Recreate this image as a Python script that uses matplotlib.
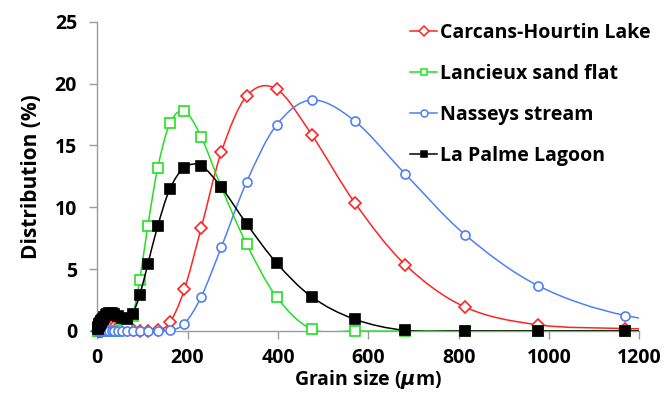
import matplotlib
matplotlib.use('Agg')
from matplotlib import pyplot as plt
from matplotlib.path import Path
from matplotlib.patches import PathPatch
from matplotlib.lines import Line2D

plt.rcParams['font.family'] = ['Open Sans', 'DejaVu Sans']
plt.rcParams['font.weight'] = 'bold'

# grain size classes (um), shared by all samples
grain = [2.1, 2.6, 3.1, 3.7, 4.4, 5.3, 6.3, 7.6, 9.1, 10.8, 13.0, 15.5, 18.6,
         22.3, 26.7, 31.9, 38.2, 45.7, 54.7, 65.5, 78.4, 93.9, 112, 134, 161,
         193, 230, 275, 331, 397, 475, 570, 682, 815, 976, 1169, 1400]

carcans = [0, 0, 0, 0, 0, 0, 0, 0, 0, 0, 0.1, 0.2, 0.3,
           0.35, 0.4, 0.4, 0.35, 0.3, 0.2, 0.1, 0.05, 0, 0, 0.05, 0.7,
           3.37, 8.3, 14.5, 19.0, 19.55, 15.85, 10.37, 5.35, 1.92, 0.5, 0.2, 0.05]

lancieux = [0, 0, 0, 0, 0, 0, 0, 0, 0, 0, 0, 0, 0,
            0, 0, 0, 0, 0, 0.05, 0.3, 1.2, 4.1, 8.5, 13.2, 16.8,
            17.75, 15.7, 11.6, 7.0, 2.75, 0.15, 0, 0, 0, 0, 0, 0]

nasseys = [0, 0, 0, 0, 0, 0, 0, 0, 0, 0, 0, 0, 0,
           0, 0, 0, 0, 0, 0, 0, 0, 0, 0, 0, 0.05,
           0.6, 2.75, 6.8, 12.07, 16.65, 18.67, 16.97, 12.68, 7.76, 3.66, 1.25, 0.35]

lapalme = [0.2, 0.3, 0.4, 0.5, 0.55, 0.6, 0.65, 0.7, 0.8, 0.9, 1.0, 1.15, 1.3,
           1.4, 1.45, 1.45, 1.35, 1.2, 1.05, 1.0, 1.4, 2.9, 5.4, 8.5, 11.5,
           13.2, 13.35, 11.6, 8.65, 5.5, 2.75, 0.95, 0.05, 0, 0, 0, 0]

labels = ['Carcans-Hourtin Lake', 'Lancieux sand flat', 'Nasseys stream', 'La Palme Lagoon']


def smooth_path(xs, ys):
    # Bezier curve through the points, like Excel's smoothed lines
    n = len(xs)
    verts = [(xs[0], ys[0])]
    codes = [Path.MOVETO]
    for i in range(n - 1):
        xa, ya = (xs[i - 1], ys[i - 1]) if i > 0 else (xs[i], ys[i])
        xd, yd = (xs[i + 2], ys[i + 2]) if i + 2 < n else (xs[i + 1], ys[i + 1])
        c1 = (xs[i] + (xs[i + 1] - xa) / 6, ys[i] + (ys[i + 1] - ya) / 6)
        c2 = (xs[i + 1] - (xd - xs[i]) / 6, ys[i + 1] - (yd - ys[i]) / 6)
        verts += [c1, c2, (xs[i + 1], ys[i + 1])]
        codes += [Path.CURVE4] * 3
    return Path(verts, codes)


fig = plt.figure(figsize=(6.66, 4), dpi=100)
ax = fig.add_axes([0.146, 0.1725, 0.814, 0.7733])
ax.set_xlim(0, 1200)
ax.set_ylim(0, 25)

styles = [
    (carcans, '#FF2424', 'D', 'white', 6.5),
    (lancieux, '#22E022', 's', 'white', 6.5),
    (nasseys, '#4F80F2', 'o', 'white', 6.5),
    (lapalme, 'black', 's', 'black', 6.5),
]
handles = []
for k, (vals, col, mk, fc, ms) in enumerate(styles):
    ax.add_patch(PathPatch(smooth_path(grain, vals), facecolor='none',
                           edgecolor=col, lw=1.1, zorder=2 + k))
    ax.plot(grain[:-1], vals[:-1], ls='none', marker=mk, ms=ms, mfc=fc, mec=col,
            mew=1.2, clip_on=False, zorder=2.5 + k)
    handles.append(Line2D([], [], color=col, lw=1.1, marker=mk, ms=5, mfc=fc,
                          mec=col, mew=1.1))

ax.legend(handles, labels, loc='upper left', bbox_to_anchor=(0.577, 0.995),
          frameon=False, fontsize=14, handlelength=1.4, handletextpad=0.15,
          labelspacing=1.07, borderpad=0, borderaxespad=0)

for s in ['top', 'right']:
    ax.spines[s].set_visible(False)
for s in ['left', 'bottom']:
    ax.spines[s].set_color('#9a9a9a')
    ax.spines[s].set_linewidth(1.0)

ax.set_xticks(range(0, 1201, 200))
ax.set_yticks(range(0, 26, 5))
ax.tick_params(direction='out', length=5.5, width=1.0, color='#9a9a9a',
               labelsize=14, pad=7)
ax.tick_params(axis='y', pad=9)
for t in ax.get_xticklabels() + ax.get_yticklabels():
    t.set_fontweight('bold')

ax.set_xlabel(r'Grain size ($\mu$m)', fontsize=14, fontweight='bold', labelpad=0)
ax.set_ylabel('Distribution (%)', fontsize=15, fontweight='bold', labelpad=9)

plt.savefig('out.png', dpi=100)
